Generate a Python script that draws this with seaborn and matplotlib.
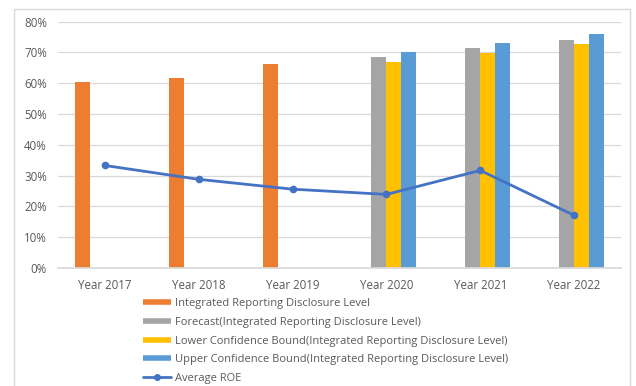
import numpy as np
import pandas as pd
import matplotlib
matplotlib.use("Agg")
import matplotlib.pyplot as plt
import seaborn as sns
from matplotlib.lines import Line2D
from matplotlib.patches import Rectangle

years = ["Year 2017", "Year 2018", "Year 2019", "Year 2020", "Year 2021", "Year 2022"]
disclosure = [0.605, 0.618, 0.661, np.nan, np.nan, np.nan]
forecast = [np.nan, np.nan, np.nan, 0.686, 0.715, 0.742]
lower_bound = [np.nan, np.nan, np.nan, 0.670, 0.699, 0.726]
upper_bound = [np.nan, np.nan, np.nan, 0.702, 0.731, 0.760]
avg_roe = [0.333, 0.288, 0.256, 0.239, 0.317, 0.171]

series_names = [
    "Integrated Reporting Disclosure Level",
    "Forecast(Integrated Reporting Disclosure Level)",
    "Lower Confidence Bound(Integrated Reporting Disclosure Level)",
    "Upper Confidence Bound(Integrated Reporting Disclosure Level)",
]
colors = ["#ED7D31", "#A5A5A5", "#FFC000", "#5B9BD5"]
line_color = "#4472C4"

# long table for the grouped bars
rows = []
for name, vals in zip(series_names, [disclosure, forecast, lower_bound, upper_bound]):
    for y, v in zip(years, vals):
        rows.append({"year": y, "series": name, "value": v})
bars = pd.DataFrame(rows)
roe = pd.DataFrame({"year": years, "roe": avg_roe})

sns.set_theme(style="white")
plt.rcParams["font.family"] = ["Open Sans", "DejaVu Sans"]
text_color = "#595959"

fig = plt.figure(figsize=(6.36, 3.86), dpi=100)
ax = fig.add_axes([58 / 636, 1 - 268 / 386, (621 - 58) / 636, (268 - 21.7) / 386])

sns.barplot(data=bars, x="year", y="value", hue="series", order=years,
            hue_order=series_names, palette=colors, width=0.64, gap=0,
            saturation=1, linewidth=0, ax=ax, legend=False)
sns.pointplot(data=roe, x="year", y="roe", order=years, color=line_color,
              markers="o", markersize=4, linewidth=2, ax=ax)

ax.set_ylim(0, 0.8)
ax.set_xlim(-0.5, 5.5)
ax.set_yticks(np.arange(0, 0.81, 0.1))
ax.set_yticklabels([f"{int(round(t * 100))}%" for t in np.arange(0, 0.81, 0.1)])
ax.yaxis.grid(True, color="#D9D9D9", linewidth=0.9)
ax.set_axisbelow(True)
for s in ["top", "right", "left"]:
    ax.spines[s].set_visible(False)
ax.spines["bottom"].set_color("#D9D9D9")
ax.tick_params(axis="both", length=0, labelsize=8.3, colors=text_color)
ax.tick_params(axis="y", pad=8)
ax.tick_params(axis="x", pad=8)
ax.set_xlabel("")
ax.set_ylabel("")

handles = [Line2D([0], [0], color=c, linewidth=4, solid_capstyle="butt") for c in colors]
handles.append(Line2D([0], [0], color=line_color, linewidth=2, marker="o", markersize=4))
labels = series_names + ["Average ROE"]
fig.legend(handles, labels, loc="upper left", bbox_to_anchor=(143 / 636, 1 - 298 / 386),
           frameon=False, fontsize=8, labelcolor=text_color, borderpad=0,
           borderaxespad=0, handlelength=2.5, handletextpad=0.35, labelspacing=0.7)

# thin gray frame around the chart, as in the original
fig.add_artist(Rectangle((14 / 636, -0.02), (630 - 14) / 636, (386 - 9) / 386 + 0.02,
                         transform=fig.transFigure, fill=False,
                         edgecolor="#D9D9D9", linewidth=1))

fig.savefig("out.png", dpi=100)
